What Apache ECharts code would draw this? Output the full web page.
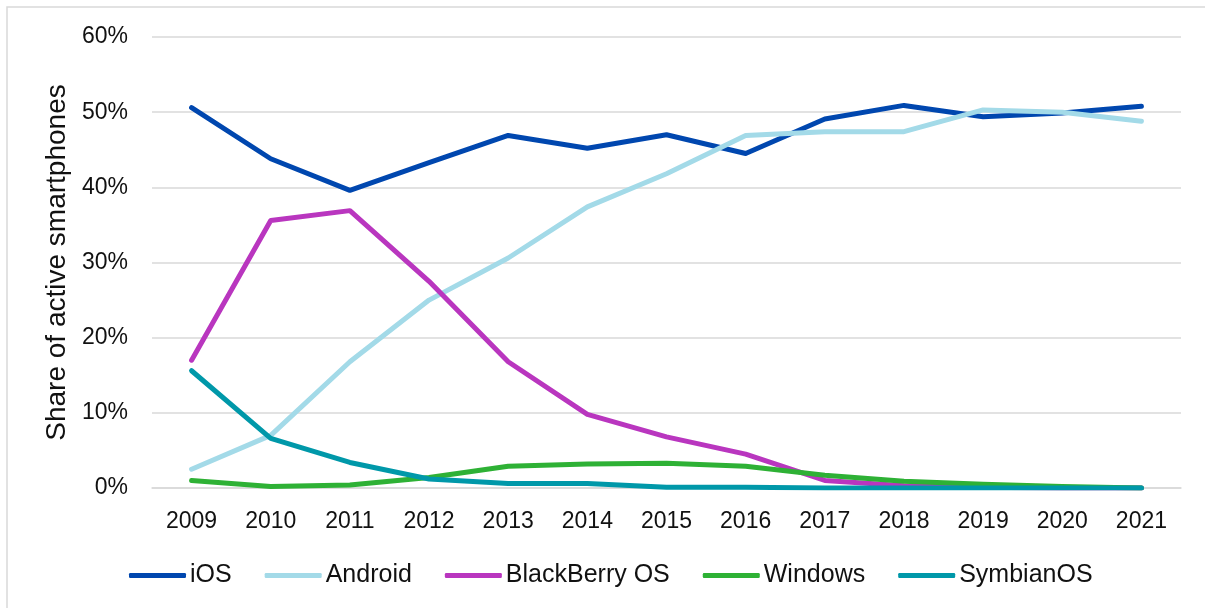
<!DOCTYPE html>
<html>
<head>
<meta charset="utf-8">
<script src="https://cdn.jsdelivr.net/npm/echarts@6/dist/echarts.min.js"></script>
<style>html,body{margin:0;padding:0;background:#fff}#c{width:1205px;height:608px}</style>
</head>
<body>
<div id="c"></div>
<script>
const years = ['2009','2010','2011','2012','2013','2014','2015','2016','2017','2018','2019','2020','2021'];
const iOS = [50.6, 43.8, 39.6, 43.3, 46.9, 45.2, 47.0, 44.5, 49.1, 50.9, 49.4, 49.9, 50.8];
const android = [2.5, 7.0, 16.8, 25.0, 30.6, 37.4, 41.8, 46.9, 47.4, 47.4, 50.3, 50.0, 48.8];
const blackberry = [17.0, 35.6, 36.9, 27.5, 16.8, 9.8, 6.8, 4.5, 1.0, 0.3, 0.1, 0, 0];
const windows = [1.0, 0.2, 0.4, 1.4, 2.9, 3.2, 3.3, 2.9, 1.7, 0.9, 0.5, 0.2, 0.0];
const symbian = [15.6, 6.6, 3.4, 1.2, 0.6, 0.6, 0.1, 0.1, 0, 0, 0, 0, 0];
const seriesNames = ['iOS', 'Android', 'BlackBerry OS', 'Windows', 'SymbianOS'];
const seriesData = [iOS, android, blackberry, windows, symbian];
const colors = ['#0047AF', '#A3DAE8', '#B936BF', '#2EB135', '#0098A9'];

const font = "'Liberation Sans', Arial, sans-serif";
const chart = echarts.init(document.getElementById('c'), null, {renderer: 'canvas'});
chart.setOption({
  animation: false,
  backgroundColor: '#fff',
  color: colors,
  textStyle: {fontFamily: font, color: '#111'},
  graphic: [{
    type: 'rect', shape: {x: 7, y: 7, width: 1400, height: 800},
    style: {fill: 'none', stroke: '#d9d9d9', lineWidth: 1.5}, silent: true, z: -1
  }],
  grid: {left: 152, right: 24, top: 37, bottom: 120, containLabel: false},
  xAxis: {
    type: 'category', data: years, boundaryGap: true,
    axisLine: {show: true, lineStyle: {color: '#d9d9d9', width: 1.5}},
    axisTick: {show: false},
    axisLabel: {fontSize: 23, color: '#111', fontFamily: font, margin: 22}
  },
  yAxis: {
    type: 'value', min: 0, max: 60, interval: 10,
    name: 'Share of active smartphones', nameLocation: 'middle', nameGap: 80,
    nameTextStyle: {fontSize: 28, color: '#111', fontFamily: font},
    axisLine: {show: false}, axisTick: {show: false},
    axisLabel: {fontSize: 23, color: '#111', fontFamily: font, margin: 24, formatter: '{value}%'},
    splitLine: {lineStyle: {color: '#d9d9d9', width: 1.5}}
  },
  legend: {
    data: seriesNames, left: 124, top: 558, icon: 'roundRect',
    itemWidth: 57, itemHeight: 5, itemGap: 33,
    textStyle: {fontSize: 25, color: '#111', fontFamily: font, padding: [0, 0, 0, -1]}
  },
  series: seriesNames.map((n, i) => ({
    name: n, type: 'line', data: seriesData[i], symbol: 'none',
    lineStyle: {width: 5, color: colors[i], cap: 'round', join: 'round'},
    itemStyle: {color: colors[i]}
  }))
});
</script>
</body>
</html>
